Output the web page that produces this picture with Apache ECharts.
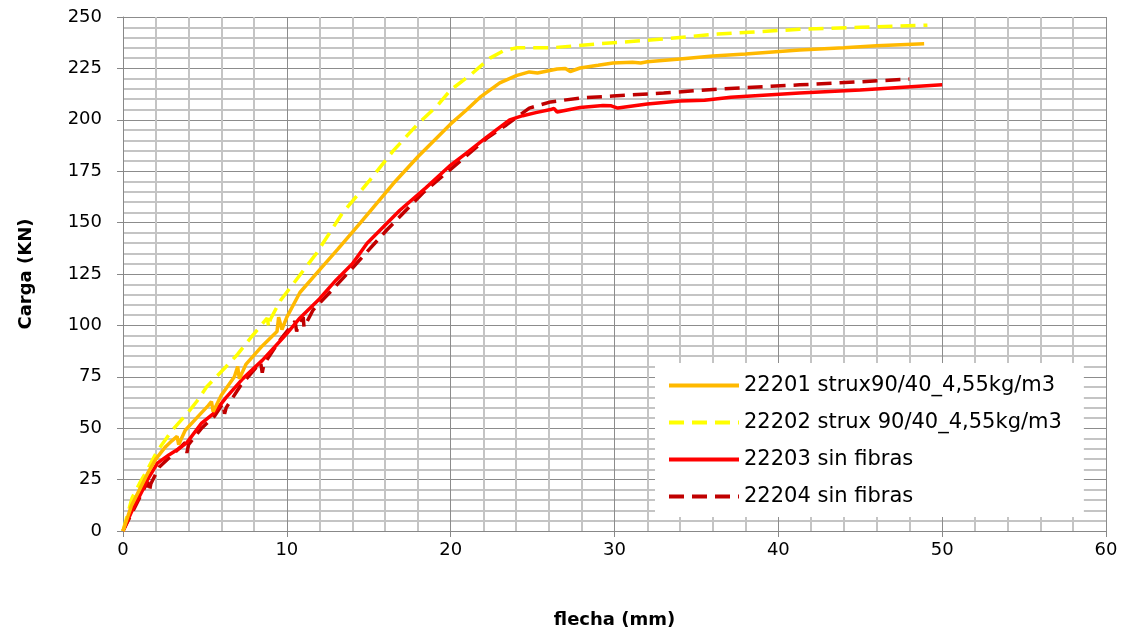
<!DOCTYPE html>
<html>
<head>
<meta charset="utf-8">
<script src="https://cdn.jsdelivr.net/npm/echarts@6/dist/echarts.min.js"></script>
<style>html,body{margin:0;padding:0;background:#fff}#c{width:1128px;height:637px}</style>
</head>
<body>
<div id="c"></div>
<script>
const names = ["22201 strux90/40_4,55kg/m3", "22202 strux 90/40_4,55kg/m3", "22203 sin fibras", "22204 sin fibras"];

const s1x = [0, 0.5, 1.0, 1.5, 2.0, 2.6, 3.0, 3.3, 3.4, 3.8, 4.5, 5.2, 5.4, 5.5, 6.0, 6.8, 7.0, 7.1, 7.5, 8.5, 9.4, 9.5, 9.7, 10.0, 10.8, 12.0, 13.1, 14.5, 16.5, 18.0, 20.0, 21.0, 21.8, 23.0, 24.0, 24.8, 25.3, 26.5, 27.0, 27.3, 27.9, 29.0, 29.9, 31.1, 31.6, 32.0, 34.0, 36.0, 38.0, 41.3, 44.0, 46.0, 48.9];
const s1y = [0, 12, 20, 28, 35, 41, 44, 46, 42, 49, 55, 61, 63, 58, 66, 75, 80, 74, 81, 90, 97, 104, 98, 104, 116, 127, 137, 150, 169, 182, 198, 205, 211, 218, 221.5, 223.3, 222.8, 224.7, 225, 223.5, 225.2, 226.5, 227.6, 228, 227.6, 228.2, 229.6, 231, 232, 234, 235, 236, 237];

const s2x = [0, 0.55, 1.0, 1.5, 2.1, 3.0, 3.9, 4.5, 5.1, 6.3, 7.0, 7.8, 8.8, 8.9, 9.0, 9.6, 10.8, 11.8, 13.4, 15.0, 16.5, 18.0, 19.2, 20.0, 21.2, 22.4, 23.2, 24.0, 26.1, 29.1, 32.2, 36.3, 41.3, 45.0, 49.1];
const s2y = [0, 16, 23, 30, 39, 49, 57, 63, 70, 80, 86, 94, 103.6, 99, 103, 112, 124.5, 135, 154.7, 170, 185, 198, 207, 214.5, 221.8, 230, 233.5, 235, 235, 237, 238.8, 241.7, 244, 245, 246];

const s3x = [0, 0.5, 1.2, 1.5, 2.1, 2.8, 3.4, 3.9, 4.8, 5.5, 6.3, 7.3, 8.5, 9.2, 10.0, 10.8, 12.0, 13.0, 14.0, 14.9, 16.9, 18.5, 20.0, 21.0, 22.2, 23.6, 24.4, 25.2, 26.1, 26.3, 26.5, 27.9, 29.3, 29.8, 30.2, 32.0, 34.0, 35.5, 37.1, 41.3, 45.0, 50.0];
const s3y = [0, 9, 20, 25, 33, 37, 40, 43, 52.5, 57, 65, 74, 83, 89, 96, 103.6, 113, 122, 130, 140, 156, 167, 178, 184, 191.6, 200, 202, 203.5, 205, 205.6, 203.8, 206, 207, 206.8, 205.7, 207.7, 209.1, 209.5, 211, 213, 214.5, 217];

const s4x = [0, 0.5, 1.0, 1.5, 1.6, 1.7, 2.2, 3.0, 3.8, 3.9, 4.0, 4.8, 5.6, 6.1, 6.2, 6.3, 7.2, 8.4, 8.5, 8.6, 9.5, 10.5, 10.6, 10.7, 11.0, 11.05, 11.6, 12.5, 13.9, 16.1, 18.3, 20.8, 22.2, 23.4, 24.0, 24.8, 26.1, 27.9, 29.9, 33.0, 36.4, 41.3, 45.0, 48.0];
const s4y = [0, 8, 16, 24, 19, 23, 31, 37, 43, 38, 42, 50, 56, 62, 57, 60, 71, 82, 77, 81, 92, 102, 97, 101, 104, 99, 107.5, 115, 127, 146.4, 164.4, 181.4, 191, 197.5, 201, 205.7, 208.7, 210.6, 211.6, 213, 215, 217, 218.5, 219.8];

const xTitle = "flecha (mm)";
const yTitle = "Carga (KN)";

function pairs(xs, ys){ return xs.map((x,i)=>[x, ys[i]]); }

const font = "'DejaVu Sans', sans-serif";
const chart = echarts.init(document.getElementById('c'), null, {renderer:'canvas'});
const mk = (i, xs, ys, color, dash) => ({
  name: names[i], type:'line', data: pairs(xs, ys), symbol:'none',
  smooth: false, z: 10 - i,
  lineStyle:{color: color, width: 3.5, type: dash ? [15, 8] : 'solid'},
  itemStyle:{color: color}
});
chart.setOption({
  animation:false,
  backgroundColor:'#fff',
  grid:{left:123, right:22, top:17, bottom:106, containLabel:false},
  xAxis:{
    type:'value', min:0, max:60, interval:10,
    name: xTitle, nameLocation:'middle', nameGap:80,
    nameTextStyle:{fontFamily:font, fontSize:18, fontWeight:'bold', color:'#000'},
    axisLine:{show:true, lineStyle:{color:'#888', width:1}},
    axisTick:{show:true, length:6, lineStyle:{color:'#888'}},
    axisLabel:{fontFamily:font, fontSize:18, color:'#000', margin:10},
    splitLine:{show:true, lineStyle:{color:'#8c8c8c', width:1}},
    minorTick:{show:true, splitNumber:5, length:0},
    minorSplitLine:{show:true, lineStyle:{color:'#c4c4c4', width:2}}
  },
  yAxis:{
    type:'value', min:0, max:250, interval:25,
    name: yTitle, nameLocation:'middle', nameGap:88, nameRotate:90,
    nameTextStyle:{fontFamily:font, fontSize:18, fontWeight:'bold', color:'#000'},
    axisLine:{show:true, lineStyle:{color:'#888', width:1}},
    axisTick:{show:true, length:6, lineStyle:{color:'#888'}},
    axisLabel:{fontFamily:font, fontSize:18, color:'#000', margin:21},
    splitLine:{show:true, lineStyle:{color:'#8c8c8c', width:1}},
    minorTick:{show:true, splitNumber:5, length:0},
    minorSplitLine:{show:true, lineStyle:{color:'#c4c4c4', width:2}}
  },
  legend:{
    orient:'vertical', left:655, top:363,
    backgroundColor:'#fff', padding:[12,22,10,12],
    itemWidth:70, itemHeight:14, itemGap:16,
    itemStyle:{opacity:0},
    lineStyle:{width:4},
    textStyle:{fontFamily:font, fontSize:21, color:'#000'},
    data: names
  },
  series:[
    mk(0, s1x, s1y, '#FFB900', false),
    mk(1, s2x, s2y, '#FFFF00', true),
    mk(2, s3x, s3y, '#FF0000', false),
    mk(3, s4x, s4y, '#C00000', true)
  ]
});
</script>
</body>
</html>
